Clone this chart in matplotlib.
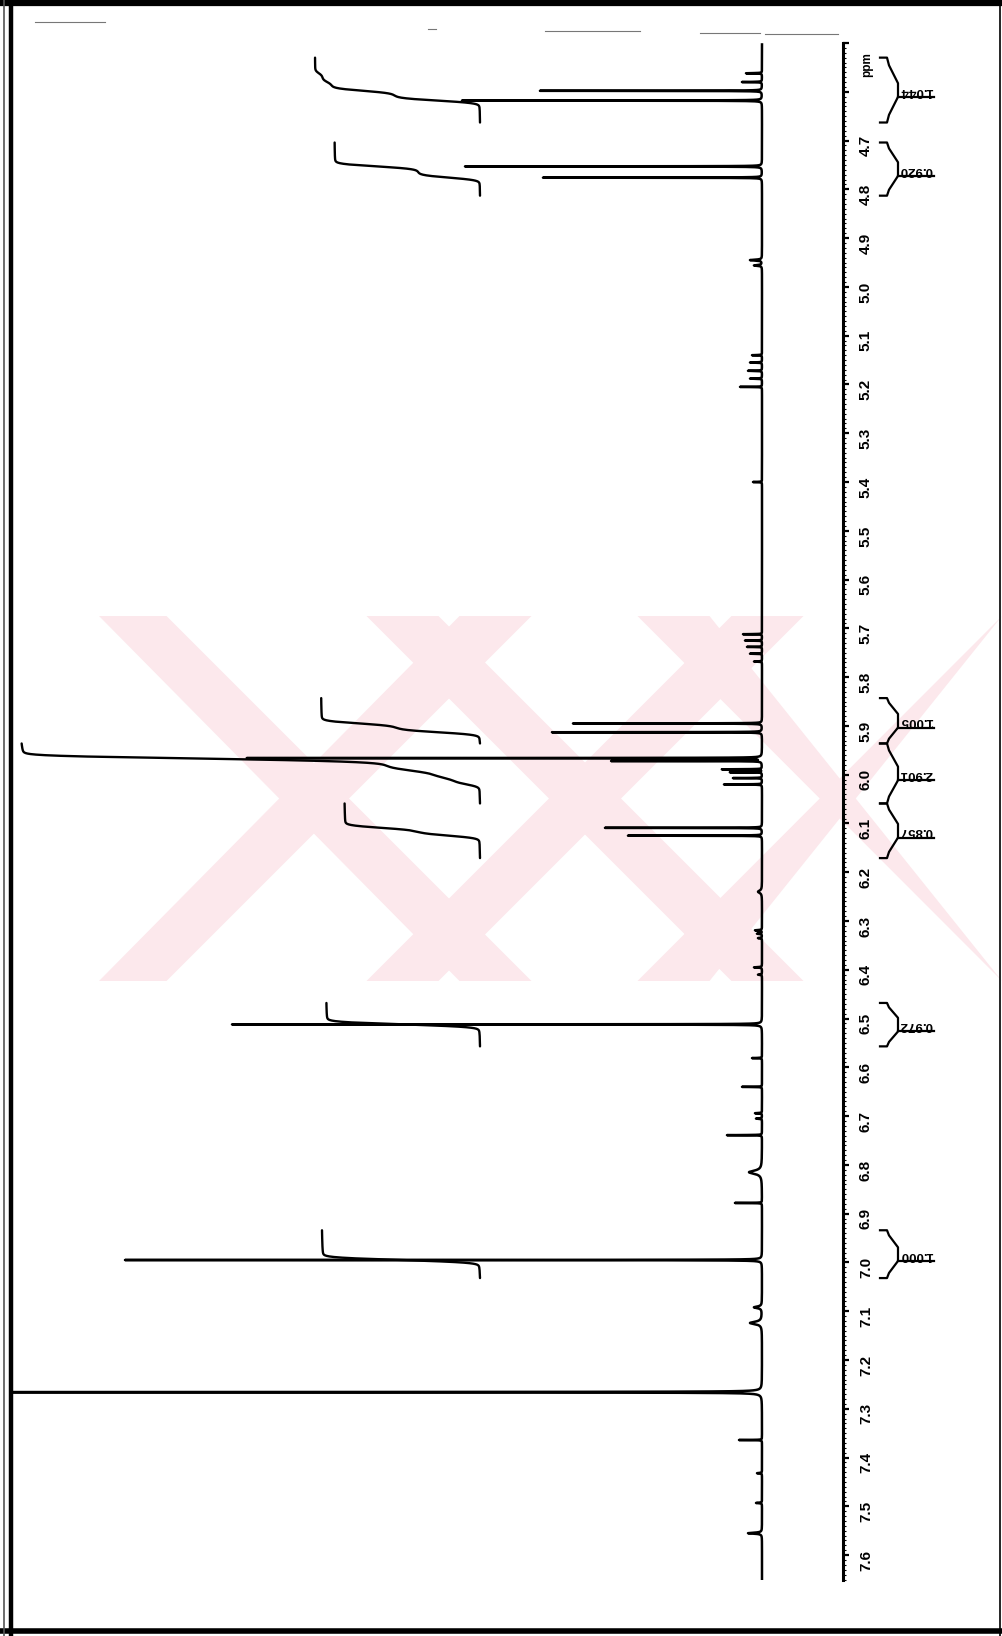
import numpy as np
import matplotlib
matplotlib.use("Agg")
import matplotlib.pyplot as plt
from matplotlib import transforms
from matplotlib.ticker import MultipleLocator, FuncFormatter
from matplotlib.patches import Polygon
from matplotlib.lines import Line2D

W, H, DPI = 1002, 1636, 100

# --- 1H NMR peak list: shift (ppm), height (a.u.), half width (ppm) ---
peak_ppm = [4.562, 4.580, 4.598, 4.618, 4.753, 4.776, 4.945, 4.956,
            5.140, 5.155, 5.172, 5.188, 5.205, 5.400,
            5.712, 5.725, 5.738, 5.752, 5.768,
            5.895, 5.913, 5.966, 5.972, 5.989, 5.995, 6.007, 6.020,
            6.109, 6.125, 6.240, 6.319, 6.326, 6.335, 6.395, 6.410,
            6.512, 6.581, 6.640, 6.694, 6.705, 6.739, 6.815, 6.878,
            6.995, 7.092, 7.124, 7.266, 7.364, 7.432, 7.493, 7.555]
peak_height = [16, 20, 222, 300, 297, 219, 12, 8,
               10, 12, 14, 12, 22, 9,
               19, 17, 15, 12, 8,
               189, 210, 515, 150, 40, 32, 29, 38,
               157, 134, 4, 7, 5, 4, 8, 4,
               530, 10, 20, 7, 6, 35, 13, 27,
               637, 8, 12, 2000, 23, 5, 6, 14]
peak_hwhm = [0.0004, 0.0004, 0.00025, 0.00025, 0.00025, 0.00025, 0.0010, 0.0010,
             0.0004, 0.0004, 0.0004, 0.0004, 0.0003, 0.0004,
             0.0003, 0.0003, 0.0003, 0.0003, 0.0004,
             0.00025, 0.00025, 0.00025, 0.00025, 0.0003, 0.0003, 0.0003, 0.0003,
             0.00025, 0.00025, 0.0030, 0.0006, 0.0006, 0.0006, 0.0006, 0.0006,
             0.00025, 0.0004, 0.0003, 0.0005, 0.0005, 0.0003, 0.0040, 0.0003,
             0.00025, 0.0020, 0.0030, 0.00025, 0.0003, 0.0006, 0.0006, 0.0012]

# --- integration regions and values ---
integral_start = [4.530, 4.704, 5.843, 5.936, 6.059, 6.468, 6.934]
integral_end = [4.663, 4.813, 5.936, 6.059, 6.171, 6.557, 7.032]
integral_value = [1.044, 0.920, 1.005, 2.901, 0.857, 0.972, 1.000]

ppm_top, ppm_bottom = 4.50, 7.651
major_step, minor_step = 0.1, 0.01

# ---------------------------------------------------------------------------
plt.rcParams["font.family"] = ["Liberation Sans", "DejaVu Sans"]
plt.rcParams["font.weight"] = "bold"

fig = plt.figure(figsize=(W / DPI, H / DPI), dpi=DPI)
fig.patch.set_facecolor("white")

# pale watermark bands behind the plot
wm_color = "#fce8ec"
wm_top, wm_bot = 616, 981
for cx in (313, 585, 856):
    half = (wm_bot - wm_top) / 2
    bw = 36
    for sgn in (1, -1):
        pts = [(cx - sgn * half - bw, wm_top), (cx - sgn * half + bw, wm_top),
               (cx + sgn * half + bw, wm_bot), (cx + sgn * half - bw, wm_bot)]
        pts = [(min(max(x, 99), 1002) / W, 1 - y / H) for x, y in pts]
        fig.patches.append(Polygon(pts, closed=True, transform=fig.transFigure,
                                   facecolor=wm_color, edgecolor="none", zorder=-10))

# spectrum axes: ppm runs downward, intensity runs to the left
ax_l, ax_r, ax_t, ax_b = 10, 843, 43, 1580
ax = fig.add_axes([ax_l / W, 1 - ax_b / H, (ax_r - ax_l) / W, (ax_b - ax_t) / H])
ax.patch.set_alpha(0)
base_px = 762
ax.set_xlim(base_px - ax_l, base_px - ax_r)
ax.set_ylim(ppm_bottom, ppm_top)

step = 0.00005
ppm = np.arange(4.503, 7.656, step)
spec = np.zeros_like(ppm)
for p, h, g in zip(peak_ppm, peak_height, peak_hwhm):
    spec += h * g ** 2 / ((ppm - p) ** 2 + g ** 2)
ax.plot(spec, ppm, color="black", lw=1.8, solid_joinstyle="round")

# integral traces (smoothed running sums)
sig = 0.004 / step
kx = np.arange(-int(4 * sig), int(4 * sig) + 1)
kern = np.exp(-0.5 * (kx / sig) ** 2)
kern /= kern.sum()
spec_s = np.convolve(spec, kern, mode="same")
int_base = base_px - 480
k_int = 158.0
for s, e, v in zip(integral_start, integral_end, integral_value):
    m = (ppm >= s) & (ppm <= e)
    sub = spec_s[m][::-1]
    cum = np.cumsum(sub)
    cum = cum / cum[-1]
    ax.plot(int_base + v * k_int * cum, ppm[m][::-1], color="black", lw=1.7,
            solid_capstyle="round")

# ppm axis on the right
for sp in ("left", "top", "bottom"):
    ax.spines[sp].set_visible(False)
ax.spines["right"].set_linewidth(2.2)
ax.xaxis.set_visible(False)
ax.yaxis.set_ticks_position("right")
ax.yaxis.set_major_locator(MultipleLocator(major_step))
ax.yaxis.set_minor_locator(MultipleLocator(minor_step))
ax.yaxis.set_major_formatter(FuncFormatter(lambda v, pos: "" if v < 4.65 else f"{v:.1f}"))
ax.tick_params(axis="y", which="major", direction="out", length=4.5, width=1.6,
               pad=7, labelsize=11, labelrotation=90, right=True, left=False,
               labelright=True, labelleft=False)
ax.tick_params(axis="y", which="minor", direction="out", length=2.2, width=0.8,
               right=True, left=False)

trans = transforms.blended_transform_factory(fig.transFigure, ax.transData)
ax.text(867 / W, 4.544, "ppm", transform=trans, rotation=90, ha="center",
        va="center", fontsize=8.5, clip_on=False)

# integral brackets and values
d = 0.014
for s, e, v in zip(integral_start, integral_end, integral_value):
    c = 0.5 * (s + e)
    xs = [880, 887, 889, 898, 898, 889, 887, 880]
    ys = [s, s, s + 0.3 * (c - d - s), c - d, c + d, e - 0.3 * (e - c - d), e, e]
    fig.add_artist(Line2D([x / W for x in xs], ys, transform=trans,
                          color="black", lw=1.6, solid_joinstyle="round"))
    fig.add_artist(Line2D([898 / W, 934 / W], [c + d, c + d], transform=trans,
                          color="black", lw=1.6))
    ax.text(916 / W, c + 0.001, f"{v:.3f}", transform=trans, rotation=180,
            ha="center", va="center", fontsize=9.5, clip_on=False)

# page frame
def hline(y, x0, x1, lw, color="black"):
    fig.add_artist(Line2D([x0 / W, x1 / W], [1 - y / H, 1 - y / H],
                          transform=fig.transFigure, color=color, lw=lw))

def vline(x, y0, y1, lw, color="black"):
    fig.add_artist(Line2D([x / W, x / W], [1 - y0 / H, 1 - y1 / H],
                          transform=fig.transFigure, color=color, lw=lw))

hline(3, 0, W, 4.5)
hline(1631, 0, W, 4.0)
vline(11, 0, H, 3.2)
vline(4, 0, H, 1.2, "#555555")
vline(1000, 0, H, 1.2)

# faint header marks
for x0, x1, y in [(35, 105, 22), (428, 436, 29), (545, 640, 31), (700, 760, 33),
                  (765, 838, 34)]:
    hline(y, x0, x1, 0.8, "#777777")

fig.savefig("out.png", dpi=DPI)
